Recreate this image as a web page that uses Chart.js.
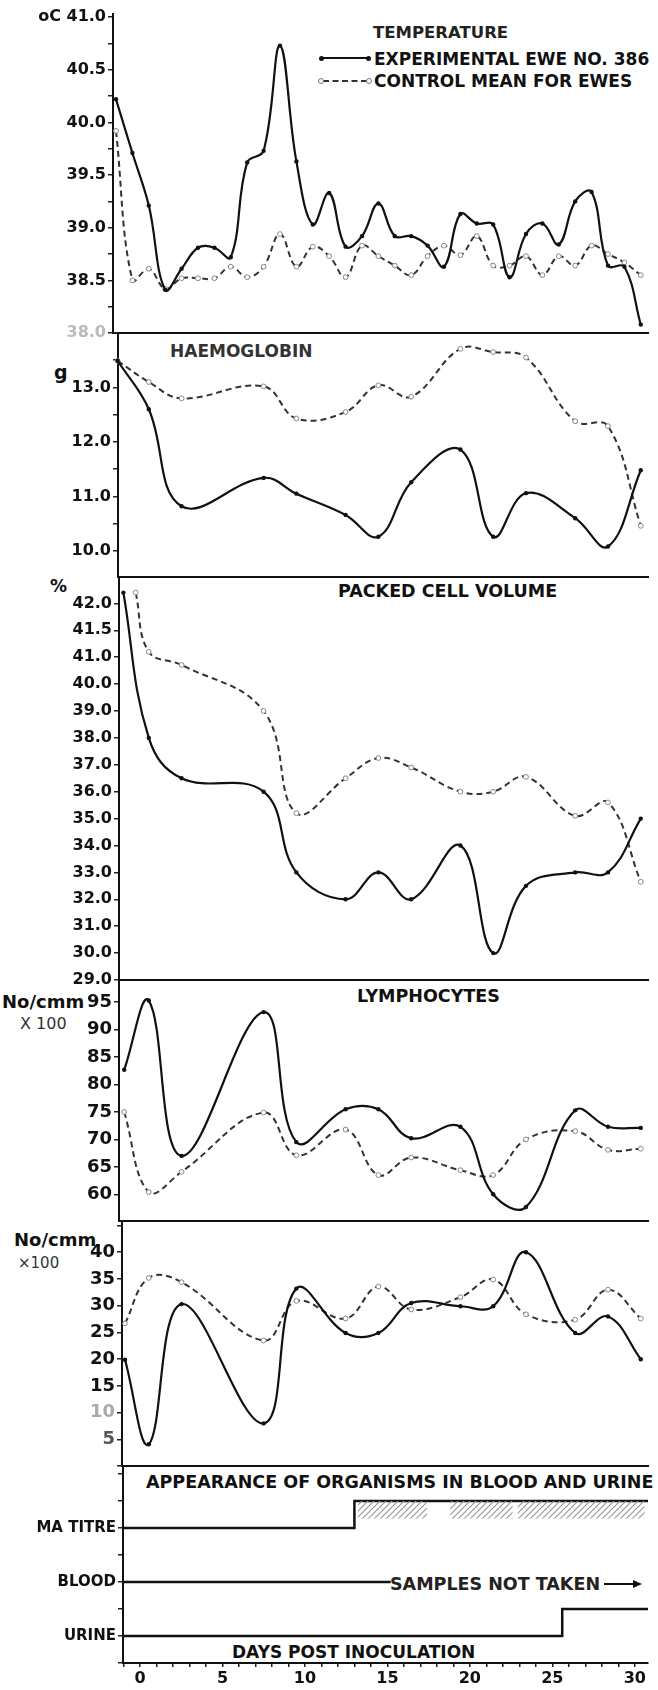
<!DOCTYPE html>
<html lang="en">
<head>
<meta charset="UTF-8">
<title>Ewe 386 - temperature, blood values and organisms</title>
<script src="https://cdn.jsdelivr.net/npm/chart.js"></script>
<style>
  body { margin: 0; background: #fff; }
  #page { position: relative; width: 658px; height: 1690px; overflow: hidden;
          font-family: 'DejaVu Sans', sans-serif; font-weight: bold; color: #111; }
  #page canvas { position: absolute; left: 0; }
  .txt { position: absolute; white-space: nowrap; line-height: 1; transform: translateY(-50%); }
  .mk { position: absolute; }
</style>
</head>
<body>
<div id="page">
  <!-- legend + titles -->
  <div class="txt" style="left:373px;top:33px;font-size:16.5px;color:#222">TEMPERATURE</div>
  <div class="mk" style="left:322px;top:57px;width:46px;border-top:2.5px solid #111"></div>
  <div class="mk" style="left:319px;top:56px;width:5px;height:5px;border-radius:50%;background:#111"></div>
  <div class="mk" style="left:366px;top:56px;width:5px;height:5px;border-radius:50%;background:#111"></div>
  <div class="txt" style="left:374px;top:59px;font-size:17px">EXPERIMENTAL EWE NO. 386</div>
  <div class="mk" style="left:323px;top:80px;width:44px;border-top:2px dashed #333"></div>
  <div class="mk" style="left:318px;top:78px;width:4px;height:4px;border-radius:50%;border:1px solid #777;background:#fff"></div>
  <div class="mk" style="left:366px;top:78px;width:4px;height:4px;border-radius:50%;border:1px solid #777;background:#fff"></div>
  <div class="txt" style="left:374px;top:81px;font-size:17px">CONTROL MEAN FOR EWES</div>

  <div class="txt" style="left:170px;top:351px;font-size:17px;color:#333">HAEMOGLOBIN</div>
  <div class="txt" style="left:54px;top:372px;font-size:19px">g</div>

  <div class="txt" style="left:50px;top:586px;font-size:17px">%</div>
  <div class="txt" style="left:338px;top:592px;font-size:17.5px">PACKED CELL VOLUME</div>

  <div class="txt" style="left:357px;top:997px;font-size:17.5px">LYMPHOCYTES</div>
  <div class="txt" style="left:2px;top:1002px;font-size:18px">No/cmm</div>
  <div class="txt" style="left:20px;top:1024px;font-size:16px;font-weight:normal;color:#333">X 100</div>

  <div class="txt" style="left:14px;top:1240px;font-size:18px">No/cmm</div>
  <div class="txt" style="left:18px;top:1263px;font-size:15px;font-weight:normal;color:#333">×100</div>

  <div class="txt" style="left:146px;top:1483px;font-size:17.5px">APPEARANCE OF ORGANISMS IN BLOOD AND URINE</div>
  <div class="txt" style="left:390px;top:1585px;font-size:17.5px;color:#222">SAMPLES NOT TAKEN</div>
  <div class="mk" style="left:604px;top:1583px;width:30px;border-top:2px solid #111"></div>
  <div class="mk" style="left:633px;top:1580px;width:0;height:0;border-top:4px solid transparent;border-bottom:4px solid transparent;border-left:9px solid #111"></div>
  <div class="txt" style="left:232px;top:1652px;font-size:17px">DAYS POST INOCULATION</div>
</div>

<script>
// ---- data ----
// temperature, daily readings
const tempDays = [-2, -1, 0, 1, 2, 3, 4, 5, 6, 7, 8, 9, 10, 11, 12, 13, 14, 15, 16,
                  17, 18, 19, 20, 21, 22, 23, 24, 25, 26, 27, 28, 29, 30];
const tempExp = [40.22, 39.71, 39.21, 38.41, 38.61, 38.81, 38.81, 38.72, 39.62, 39.73, 40.73,
                 39.63, 39.03, 39.33, 38.82, 38.92, 39.23, 38.92, 38.92, 38.83, 38.63, 39.13,
                 39.04, 39.03, 38.53, 38.94, 39.04, 38.84, 39.25, 39.34, 38.64, 38.63, 38.08];
const tempCtrl = [39.92, 38.50, 38.61, 38.42, 38.52, 38.52, 38.52, 38.63, 38.53, 38.63, 38.94,
                  38.63, 38.82, 38.73, 38.53, 38.83, 38.73, 38.64, 38.55, 38.73, 38.83, 38.74,
                  38.92, 38.64, 38.64, 38.73, 38.55, 38.73, 38.64, 38.83, 38.75, 38.67, 38.55];
const tempTicks = [38.0, 38.5, 39.0, 39.5, 40.0, 40.5, 41.0];

// haemoglobin g
const hbDays = [-1.9, 0, 2, 7, 9, 12, 14, 16, 19, 21, 23, 26, 28, 30];
const hbExp = [13.49, 12.6, 10.82, 11.34, 11.05, 10.66, 10.26, 11.26, 11.86, 10.26, 11.06, 10.6, 10.08, 11.48];
const hbCtrl = [13.49, 13.1, 12.8, 13.02, 12.43, 12.55, 13.04, 12.83, 13.71, 13.65, 13.55, 12.38, 12.29, 10.46];
const hbTicks = [10, 11, 12, 13];

// packed cell volume %
const pcvExpDays = [-1.55, 0, 2, 7, 9, 12, 14, 16, 19, 21, 23, 26, 28, 30];
const pcvExp = [42.2, 38.0, 36.5, 36.0, 33.0, 32.0, 33.0, 32.0, 34.0, 30.0, 32.5, 33.0, 33.0, 35.0];
const pcvCtrlDays = [-0.8, 0, 2, 7, 9, 12, 14, 16, 19, 21, 23, 26, 28, 30];
const pcvCtrl = [42.2, 41.1, 40.71, 39.0, 35.2, 36.5, 37.25, 36.9, 36.0, 36.0, 36.55, 35.1, 35.6, 32.65];
const pcvTickLabels = ['29.0', '30.0', '31.0', '32.0', '33.0', '34.0', '35.0', '36.0',
                       '37.0', '38.0', '39.0', '40.0', '41.0', '41.5', '42.0'];

// lymphocytes No/cmm x100
const lymphDays = [-1.5, 0, 2, 7, 9, 12, 14, 16, 19, 21, 23, 26, 28, 30];
const lymphExp = [82.7, 95.3, 67.0, 93.2, 69.5, 75.5, 75.5, 70.2, 72.3, 60.0, 57.7, 75.3, 72.3, 72.1];
const lymphCtrl = [75.0, 60.4, 64.1, 74.9, 67.1, 71.8, 63.5, 66.7, 64.4, 63.5, 70.0, 71.5, 68.1, 68.3];
const lymphTicks = [60, 65, 70, 75, 80, 85, 90, 95];

// second cell count No/cmm x100
const cellDays = [-1.45, 0, 2, 7, 9, 12, 14, 16, 19, 21, 23, 26, 28, 30];
const cellExp = [19.9, 4.1, 30.3, 8.0, 33.2, 24.9, 24.9, 30.5, 29.9, 29.9, 40.0, 24.9, 28.0, 20.0];
const cellCtrl = [26.7, 35.2, 34.4, 23.5, 30.9, 27.6, 33.6, 29.3, 31.6, 34.9, 28.4, 27.4, 33.0, 27.6];
const cellTicks = [5, 10, 15, 20, 25, 30, 35, 40];

// appearance of organisms (levels on the bottom panel)
const orgLabels = ['URINE', 'BLOOD', 'MA TITRE'];
const orgLevels = [1, 3, 5];
const titreDays = [-1.03, 13, 30.8];
const titreLevels = [5, 6, 6];
const hatchDays = [13.2, 17.4, 18.1, 18.8, 22.6, 22.75, 22.9, 30.6];
const hatchLevels = [6, 6, null, 6, 6, null, 6, 6];
const bloodDays = [-1.03, 15.2];
const bloodLevels = [3, 3];
const urineDays = [-1.03, 25.6, 30.8];
const urineLevels = [1, 2, 2];
const dayTicks = [0, 5, 10, 15, 20, 25, 30];

// ---- drawing ----
const FONT = "'DejaVu Sans', sans-serif";
const W = 658, RIGHT = 648, PAD = 12;
const X_MAX = 30.44;

function pts(days, vals) { return days.map((d, i) => ({ x: d, y: vals[i] })); }

// PCV axis is stretched above 41 (41.0, 41.5, 42.0 spaced like whole units)
function pcvPos(v) { return v <= 41 ? v : 41 + (v - 41) * 2; }

function solid(data) {
  return { data, borderColor: '#111', borderWidth: 2.2, tension: 0.4, clip: 6,
           pointRadius: 2.2, pointBackgroundColor: '#111', pointBorderWidth: 0 };
}
function dashed(data) {
  return { data, borderColor: '#333', borderWidth: 2, borderDash: [6, 4], tension: 0.4, clip: 6,
           pointRadius: 2.4, pointBackgroundColor: '#fff', pointBorderColor: '#888', pointBorderWidth: 1 };
}

function yAxis(axisX, min, max, step, label, size, color) {
  return {
    type: 'linear', min, max,
    afterFit: s => { s.width = axisX; },
    border: { display: true, color: '#111', width: 2 },
    grid: { drawOnChartArea: false, drawTicks: true, tickLength: 5, color: '#222', lineWidth: 1.5 },
    ticks: { stepSize: step, includeBounds: false, autoSkip: false, padding: 2,
             color: color || '#111', font: { family: FONT, weight: 'bold', size: size || 16 },
             callback: label }
  };
}

function addCanvas(top, height) {
  const c = document.createElement('canvas');
  c.width = W; c.height = height;
  c.style.top = top + 'px';
  document.getElementById('page').appendChild(c);
  return c;
}

function panel(top, bottom, axisX, datasets, y, x) {
  const xMin = (axisX - 116) / 16.4 - 2;
  const below = x ? 27 : 0;
  const canvas = addCanvas(top - PAD, bottom - top + PAD + (x ? below : PAD));
  return new Chart(canvas, {
    type: 'line',
    data: { datasets },
    options: {
      responsive: false, animation: false, events: [],
      layout: { padding: { top: PAD, bottom: x ? 0 : PAD, left: 0, right: W - RIGHT } },
      plugins: { legend: { display: false }, tooltip: { enabled: false } },
      scales: {
        x: x || {
          type: 'linear', min: xMin, max: X_MAX,
          afterFit: s => { s.height = 0; },
          border: { display: true, color: '#111', width: 2 },
          grid: { display: false, drawTicks: false },
          ticks: { display: false }
        },
        y
      }
    }
  });
}

// temperature
panel(14, 333, 113,
  [solid(pts(tempDays, tempExp)), dashed(pts(tempDays, tempCtrl))],
  yAxis(113, 38, 41.03, 0.25,
    v => tempTicks.includes(v) ? (v === 41 ? 'oC ' : '') + v.toFixed(1) : '',
    16, c => c.tick && c.tick.value === 38 ? '#bbb' : '#111'));

// haemoglobin
panel(333, 577, 118,
  [solid(pts(hbDays, hbExp)), dashed(pts(hbDays, hbCtrl))],
  yAxis(118, 9.52, 14.0, 0.5, v => hbTicks.includes(v) ? v.toFixed(1) : ''));

// packed cell volume
panel(577, 980, 119,
  [solid(pts(pcvExpDays, pcvExp.map(pcvPos))), dashed(pts(pcvCtrlDays, pcvCtrl.map(pcvPos)))],
  yAxis(119, 29, 43.98, 1, v => pcvTickLabels[v - 29] || ''));

// lymphocytes
panel(980, 1222, 119,
  [solid(pts(lymphDays, lymphExp)), dashed(pts(lymphDays, lymphCtrl))],
  yAxis(119, 55.1, 98.9, 5, v => lymphTicks.includes(v) ? String(v) : '', 18));

// second count panel
panel(1222, 1467, 122,
  [solid(pts(cellDays, cellExp)), dashed(pts(cellDays, cellCtrl))],
  yAxis(122, 0, 45.5, 5, v => cellTicks.includes(v) ? String(v) : '', 18,
    c => !c.tick ? '#111' : c.tick.value === 10 ? '#aaa' : c.tick.value === 5 ? '#555' : '#111'));

// organisms in blood and urine
const hatchCanvas = document.createElement('canvas');
hatchCanvas.width = 6; hatchCanvas.height = 6;
const hg = hatchCanvas.getContext('2d');
hg.strokeStyle = '#9a9a9a'; hg.lineWidth = 1.2;
hg.beginPath();
hg.moveTo(0, 6); hg.lineTo(6, 0);
hg.moveTo(-1, 1); hg.lineTo(1, -1);
hg.moveTo(5, 7); hg.lineTo(7, 5);
hg.stroke();
const hatch = hg.createPattern(hatchCanvas, 'repeat');

const stepLine = { borderColor: '#111', borderWidth: 2.5, pointRadius: 0, clip: 4 };
panel(1467, 1663, 123,
  [
    { data: pts(hatchDays, hatchLevels), fill: { value: 5.35 }, backgroundColor: hatch,
      borderWidth: 0, pointRadius: 0, spanGaps: false },
    Object.assign({ data: pts(titreDays, titreLevels), stepped: true }, stepLine),
    Object.assign({ data: pts(bloodDays, bloodLevels) }, stepLine),
    Object.assign({ data: pts(urineDays, urineLevels), stepped: true }, stepLine)
  ],
  yAxis(123, 0, 7.26, 1, v => {
    const i = orgLevels.indexOf(v);
    return i < 0 ? '' : orgLabels[i];
  }, 15),
  {
    type: 'linear', min: -1.03, max: 30.8,
    afterFit: s => { s.height = 27; },
    border: { display: true, color: '#111', width: 2 },
    grid: { drawOnChartArea: false, drawTicks: true, tickLength: 4, color: '#222', lineWidth: 1.5 },
    ticks: { stepSize: 1, includeBounds: false, autoSkip: false, maxRotation: 0, padding: 2,
             color: '#111', font: { family: FONT, weight: 'bold', size: 16 },
             callback: v => dayTicks.includes(v) ? String(v) : '' }
  });
</script>
</body>
</html>
